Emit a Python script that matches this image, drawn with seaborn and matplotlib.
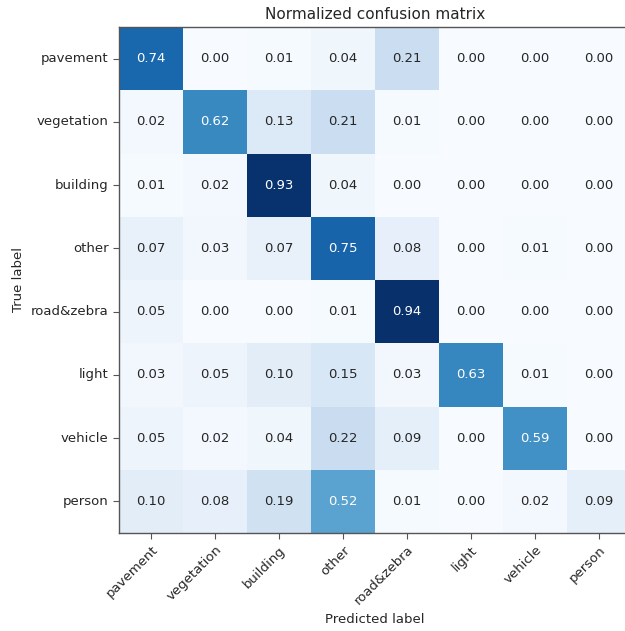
import numpy as np
import pandas as pd
import matplotlib
matplotlib.use("Agg")
import matplotlib.pyplot as plt
import seaborn as sns

classes = ["pavement", "vegetation", "building", "other",
           "road&zebra", "light", "vehicle", "person"]

row_pavement = [0.74, 0.00, 0.01, 0.04, 0.21, 0.00, 0.00, 0.00]
row_vegetation = [0.02, 0.62, 0.13, 0.21, 0.01, 0.00, 0.00, 0.00]
row_building = [0.01, 0.02, 0.93, 0.04, 0.00, 0.00, 0.00, 0.00]
row_other = [0.07, 0.03, 0.07, 0.75, 0.08, 0.00, 0.01, 0.00]
row_road = [0.05, 0.00, 0.00, 0.01, 0.94, 0.00, 0.00, 0.00]
row_light = [0.03, 0.05, 0.10, 0.15, 0.03, 0.63, 0.01, 0.00]
row_vehicle = [0.05, 0.02, 0.04, 0.22, 0.09, 0.00, 0.59, 0.00]
row_person = [0.10, 0.08, 0.19, 0.52, 0.01, 0.00, 0.02, 0.09]

cm = pd.DataFrame([row_pavement, row_vegetation, row_building, row_other,
                   row_road, row_light, row_vehicle, row_person],
                  index=classes, columns=classes)

sns.set_style("white")
plt.rcParams["font.family"] = ["DejaVu Sans"]

W, H = 625, 631
fig = plt.figure(figsize=(W / 100, H / 100), dpi=100)
ax = fig.add_axes([119 / W, (H - 533) / H, 512 / W, 506 / H])

vmax = cm.values.max()
sns.heatmap(cm, ax=ax, cmap="Blues", vmin=0, vmax=vmax, cbar=False,
            annot=True, fmt=".2f", annot_kws={"fontsize": 9.5},
            square=False)

thresh = vmax / 2.0
vals = cm.values.flatten()
for t, v in zip(ax.texts, vals):
    t.set_color("white" if v > thresh else "#262626")

for side in ["top", "left", "bottom"]:
    ax.spines[side].set_visible(True)
    ax.spines[side].set_color("#555555")
    ax.spines[side].set_linewidth(1.0)
ax.spines["right"].set_visible(False)

ax.tick_params(axis="both", which="both", length=4, width=0.8,
               color="#555555", labelcolor="#262626", labelsize=9.5,
               bottom=True, left=True)
ax.set_xticklabels(classes, rotation=45, ha="right", rotation_mode="anchor")
ax.set_yticklabels(classes, rotation=0)

ax.set_title("Normalized confusion matrix", fontsize=11, color="#262626", pad=6)
ax.set_ylabel("True label", fontsize=9.5, color="#262626")
ax.set_xlabel("Predicted label", fontsize=9.5, color="#262626")

fig.savefig("out.png", dpi=100)
